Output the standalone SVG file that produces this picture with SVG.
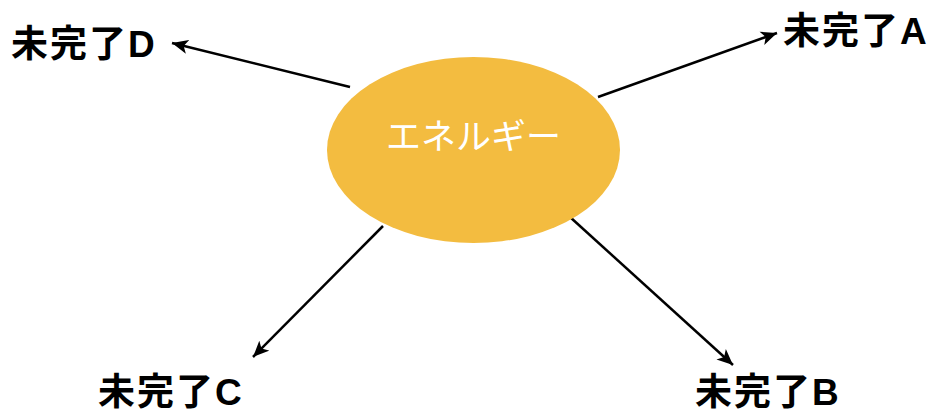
<svg xmlns="http://www.w3.org/2000/svg" width="939" height="412" viewBox="0 0 939 412">
<style>
.lbl{font-family:"Liberation Sans","Noto Sans CJK JP",sans-serif;font-weight:bold;font-size:37px;letter-spacing:2px;fill:#000}
.ctr{font-family:"Noto Sans CJK JP",sans-serif;font-size:35px;fill:#fff;text-anchor:middle}
.con{stroke:#000;stroke-width:2.5;fill:none;marker-end:url(#ah)}
</style>
<defs>
<marker id="ah" markerUnits="userSpaceOnUse" markerWidth="17" markerHeight="15" refX="16" refY="7.5" orient="auto" viewBox="0 0 17 15">
<path d="M0,0.5 L16,7.5 L0,14.5 L4,7.5 z" fill="#000"/>
</marker>
</defs>
<rect width="939" height="412" fill="#fff"/>
<g id="connectors">
<line class="con" x1="350" y1="87" x2="172" y2="43"/>
<line class="con" x1="598" y1="97" x2="777" y2="33"/>
<line class="con" x1="383" y1="226" x2="253" y2="357"/>
<line class="con" x1="570" y1="217" x2="733" y2="365"/>
</g>
<g id="energy">
<ellipse cx="473.5" cy="150" rx="146.5" ry="93" fill="#F3BC40"/>
<text class="ctr" x="473.5" y="149">エネルギー</text>
</g>
<g id="labelD"><text class="lbl" x="11" y="57">未完了D</text></g>
<g id="labelA"><text class="lbl" x="783" y="44">未完了A</text></g>
<g id="labelC"><text class="lbl" x="98" y="405">未完了C</text></g>
<g id="labelB"><text class="lbl" x="695" y="405">未完了B</text></g>
</svg>
